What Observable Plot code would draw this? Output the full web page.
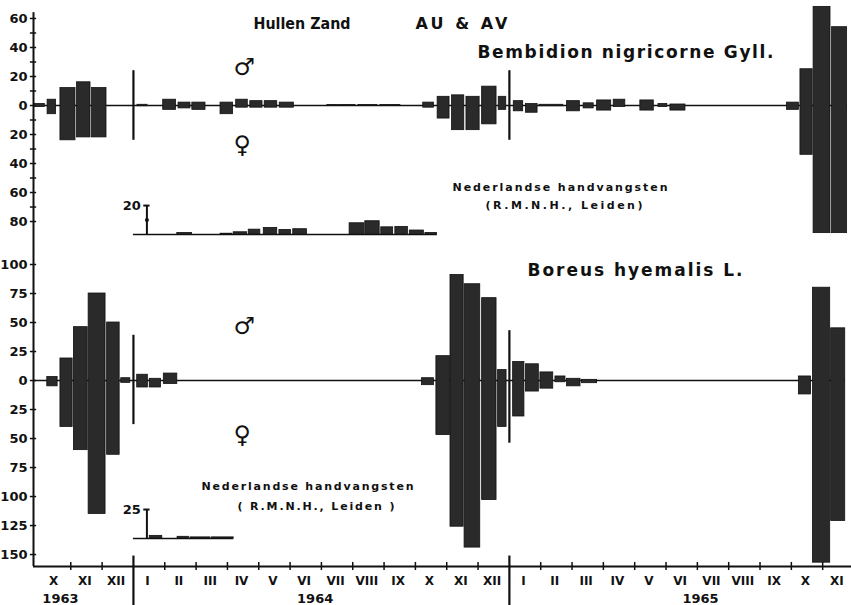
<!DOCTYPE html>
<html><head><meta charset="utf-8">
<script src="https://cdn.jsdelivr.net/npm/d3@7"></script>
<script src="https://cdn.jsdelivr.net/npm/@observablehq/plot@0.6"></script>
<style>
body{margin:0;background:#fff;}
#chart{width:851px;height:605px;position:relative;overflow:hidden;}
#chart svg{display:block;}
</style></head><body><div id="chart"></div>
<script>
// Time axis: month index, 0 = start of October 1963
const monthLabels = ["X","XI","XII","I","II","III","IV","V","VI","VII","VIII","IX","X","XI","XII","I","II","III","IV","V","VI","VII","VIII","IX","X","XI"];
const yearLabels = ["1963","1964","1965"];
const yearBreaks = [3, 15];

// Bembidion nigricorne Gyll. — sampling periods (month index), males (up), females (down)
const bembStart  = [-0.15,0.26,0.67,1.20,1.68, 3.13,3.95,4.44,4.88,5.78, 6.28,6.73,7.19,7.67, 9.19,9.54,10.18,10.88, 12.25,12.71,13.17,13.63,14.13,14.66, 15.14,15.53,15.96,16.84,17.37,17.80,18.33,19.18,19.76,20.14, 23.86,24.29,24.71,25.30];
const bembEnd    = [0.17,0.53,1.15,1.63,2.14, 3.45,4.36,4.82,5.30,6.18, 6.65,7.12,7.59,8.12, 9.51,10.09,10.79,11.52, 12.59,13.09,13.56,14.05,14.59,14.90, 15.44,15.90,16.72,17.25,17.69,18.25,18.70,19.61,20.04,20.62, 24.24,24.68,25.25,25.78];
const bembMale   = [1,4,12,16,12, 0.5,4,2,2,2, 4,3,3,2, 0.4,0.4,0.4,0.4, 2,6,7,6,13,6, 3,1,0.5,3,1.5,3.5,4,3.5,1,0.7, 2,25,68,54];
const bembFemale = [1,6,24,22,22, 0.5,3,2,3,6, 1.5,1.5,1.5,1.5, 0.4,0.4,0.4,0.4, 1.5,9,17,17,13,3, 4,5,0.5,4,2,3.5,1,3.5,1,3.5, 3,34,88,88];

// Boreus hyemalis L.
const borStart  = [0.25,0.67,1.10,1.57,2.16,2.61, 3.12,3.52,3.97, 12.21,12.67,13.12,13.57,14.13,14.64, 15.12,15.53,15.99,16.47,16.84,17.32, 24.24,24.69,25.27];
const borEnd    = [0.58,1.06,1.54,2.11,2.56,2.90, 3.46,3.88,4.40, 12.59,13.10,13.54,14.07,14.59,14.91, 15.48,15.94,16.40,16.79,17.27,17.80, 24.63,25.24,25.72];
const borMale   = [3,19,46,75,50,2, 5,1.5,6, 2,21,91,83,71,9, 16,14,7,3.5,1.5,0.6, 3.5,80,45];
const borFemale = [5,40,60,115,64,2, 6,6,3, 4,47,126,144,103,40, 31,9.5,7,1.5,5,2.3, 12,157,121];

// Nederlandse handvangsten (R.M.N.H., Leiden) insets
const handBembStart = [4.40,5.78,6.20,6.68,7.16,7.66,8.10,9.90,10.40,10.91,11.36,11.82,12.32];
const handBembEnd   = [4.87,6.16,6.63,7.05,7.59,8.03,8.54,10.37,10.86,11.29,11.76,12.27,12.69];
const handBembValue = [1.1,0.6,1.6,3.4,4.6,3.2,3.7,7.8,9.2,5,5.3,2.8,1.1];
const handBorStart = [3.52,4.41,4.82,5.51];
const handBorEnd   = [3.92,4.77,5.46,6.20];
const handBorValue = [2.3,1.5,1,1];

// ---------- layout ----------
const W = 851, ML = 33;
const xDomain = [-0.19, 25.92];
const FONT = "DejaVu Sans";
const barStyle = {fill: "#2a2a2a", stroke: "#111", strokeWidth: 0.8};

const toBars = (s, e, m, f) => s.map((v, i) => ({s: v, e: e[i], m: m[i], f: f[i]}));
const toInset = (s, e, v, base) => s.map((a, i) => ({s: a, e: e[i], y1: base, y2: base + v[i]}));

function label(id, t, x, y, size, extra = {}) {
  return Plot.text([t], {frameAnchor: "top-left", dx: x - ML, dy: y, textAnchor: "start",
    lineAnchor: "middle", fontSize: size, fontWeight: "bold", ariaLabel: () => id, ...extra});
}
function fitText(svg, specs) {
  for (const [id, w, adj] of specs) {
    d3.select(svg).selectAll(`text[aria-label="${id}"], g[aria-label="${id}"] text`)
      .attr("textLength", w).attr("lengthAdjust", adj || "spacing");
  }
}

// ---------- top panel: Bembidion ----------
const topBase = -89;
const topPlot = Plot.plot({
  width: W, height: 248, marginLeft: ML, marginRight: 0, marginTop: 0, marginBottom: 0,
  x: {domain: xDomain, axis: null},
  y: {domain: [-98.6, 72.4]},
  style: {fontFamily: FONT, background: "white", color: "#111"},
  marks: [
    Plot.ruleX([xDomain[0]], {y1: -98.6, y2: 64, strokeWidth: 2}),
    Plot.ruleY(d3.range(-80, 61, 10), {x1: -0.29, x2: -0.09, strokeWidth: 1.5}),
    Plot.axisY({ticks: d3.range(-80, 61, 20), tickFormat: d => Math.abs(d), tickSize: 0, tickPadding: 6,
      fontSize: 13, fontWeight: "bold"}),
    Plot.ruleY([0], {x1: xDomain[0], x2: 25.78, strokeWidth: 1.5}),
    Plot.rect(toBars(bembStart, bembEnd, bembMale, bembFemale), {x1: "s", x2: "e", y1: d => -d.f, y2: "m", ...barStyle}),
    Plot.ruleX(yearBreaks, {y1: -24, y2: 24, strokeWidth: 2.2}),
    // inset
    Plot.ruleY([topBase], {x1: 3.0, x2: 12.7, strokeWidth: 1.5}),
    Plot.rect(toInset(handBembStart, handBembEnd, handBembValue, topBase), {x1: "s", x2: "e", y1: "y1", y2: "y2", ...barStyle}),
    Plot.ruleX([3.43], {y1: topBase, y2: topBase + 20, strokeWidth: 2}),
    Plot.ruleY([topBase + 20], {x1: 3.33, x2: 3.53, strokeWidth: 2}),
    Plot.dot([topBase + 10], {x: 3.43, y: d => d, r: 2, fill: "#111"}),
    Plot.text(["20"], {x: 3.43, y: topBase + 20, dx: -6, textAnchor: "end", fontSize: 13, fontWeight: "bold"}),
    // annotations
    label("t1", "Hullen Zand", 253, 23, 16),
    label("t2", "AU & AV", 415, 23, 16),
    label("t3", "Bembidion nigricorne Gyll.", 477, 52, 17),
    label("m1", "♂", 233, 67, 24),
    label("f1", "♀", 233, 145, 24),
    label("n1", "Nederlandse handvangsten", 452, 187, 11),
    label("n2", "(R.M.N.H., Leiden)", 485, 205, 11)
  ]
});
fitText(topPlot, [["t1", 97, "spacingAndGlyphs"], ["t2", 92], ["t3", 296], ["n1", 215], ["n2", 157]]);

// ---------- bottom panel: Boreus ----------
const botBase = -136.2;
const yMin = -160.3;
const botPlot = Plot.plot({
  width: W, height: 357, marginLeft: ML, marginRight: 0, marginTop: 0, marginBottom: 39,
  x: {domain: xDomain, axis: null},
  y: {domain: [yMin, 113.8]},
  style: {fontFamily: FONT, background: "white", color: "#111"},
  marks: [
    Plot.ruleX([xDomain[0]], {y1: yMin, y2: 113.8, strokeWidth: 2}),
    Plot.ruleY(d3.range(-150, 101, 25), {x1: -0.29, x2: -0.09, strokeWidth: 1.5}),
    Plot.axisY({ticks: d3.range(-150, 101, 25), tickFormat: d => Math.abs(d), tickSize: 0, tickPadding: 6,
      fontSize: 13, fontWeight: "bold"}),
    Plot.ruleY([0], {x1: xDomain[0], x2: 25.72, strokeWidth: 1.5}),
    Plot.rect(toBars(borStart, borEnd, borMale, borFemale), {x1: "s", x2: "e", y1: d => -d.f, y2: "m", ...barStyle}),
    Plot.ruleX([yearBreaks[0]], {y1: -38, y2: 39, strokeWidth: 2.2}),
    Plot.ruleX([yearBreaks[1]], {y1: -54, y2: 43, strokeWidth: 2.2}),
    // inset
    Plot.ruleY([botBase], {x1: 3.0, x2: 6.2, strokeWidth: 1.5}),
    Plot.rect(toInset(handBorStart, handBorEnd, handBorValue, botBase), {x1: "s", x2: "e", y1: "y1", y2: "y2", ...barStyle}),
    Plot.ruleX([3.43], {y1: botBase, y2: botBase + 25, strokeWidth: 2}),
    Plot.ruleY([botBase + 25], {x1: 3.33, x2: 3.53, strokeWidth: 2}),
    Plot.text(["25"], {x: 3.43, y: botBase + 25, dx: -6, textAnchor: "end", fontSize: 13, fontWeight: "bold"}),
    // x axis
    Plot.ruleY([yMin], {x1: xDomain[0], x2: xDomain[1], strokeWidth: 2}),
    Plot.ruleX(d3.range(1, 26).filter(k => !yearBreaks.includes(k)), {y1: yMin + 3.5, y2: yMin - 3.5, strokeWidth: 1.5}),
    Plot.ruleX(yearBreaks, {y1: yMin + 9, y2: yMin - 34, strokeWidth: 2.2}),
    Plot.text(monthLabels, {x: (d, i) => i + 0.45, y: yMin, dy: 15, fontSize: 12, fontWeight: "bold"}),
    Plot.text(yearLabels, {x: (d, i) => [0.67, 8.8, 21.1][i], y: yMin, dy: 32, fontSize: 13, fontWeight: "bold"}),
    // annotations
    label("b1", "Boreus hyemalis L.", 527, 22, 17),
    label("m2", "♂", 233, 78, 24),
    label("f2", "♀", 233, 187, 24),
    label("n3", "Nederlandse handvangsten", 201, 238, 11),
    label("n4", "( R.M.N.H., Leiden )", 237, 258, 11)
  ]
});
fitText(botPlot, [["b1", 215], ["n3", 212], ["n4", 157]]);

const chart = document.getElementById("chart");
chart.appendChild(topPlot);
chart.appendChild(botPlot);
</script></body></html>
